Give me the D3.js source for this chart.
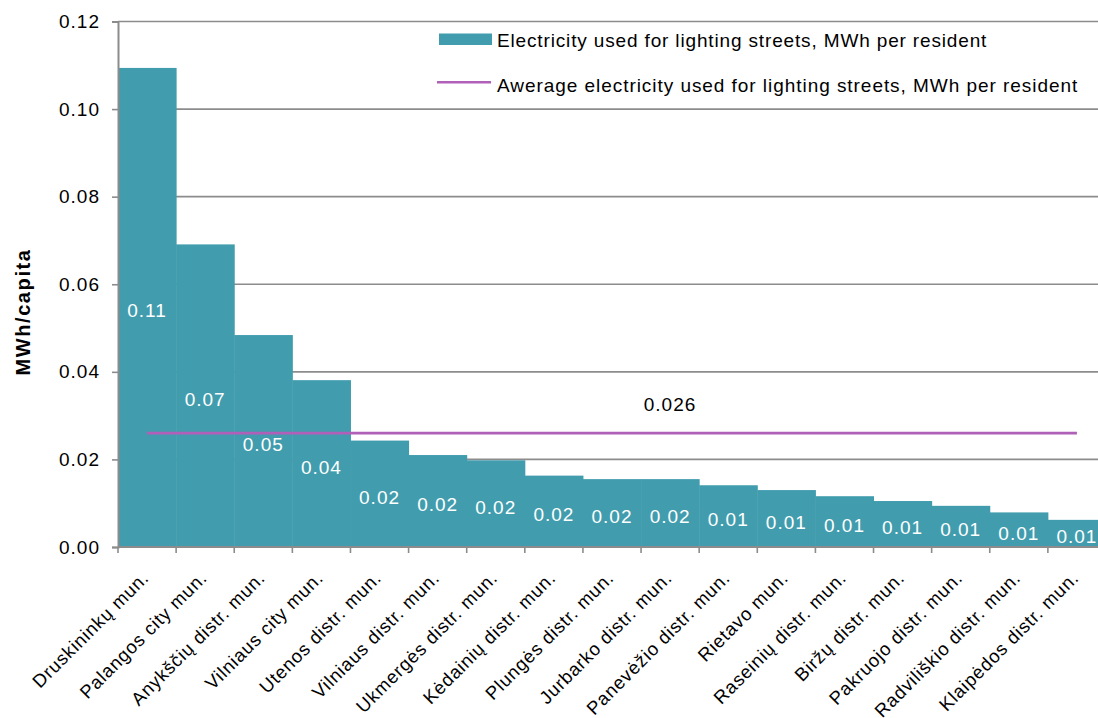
<!DOCTYPE html>
<html>
<head>
<meta charset="utf-8">
<script src="https://cdn.jsdelivr.net/npm/d3@7"></script>
<style>
  html, body { margin: 0; padding: 0; background: #fff; }
  svg { display: block; font-family: "Liberation Sans", Arial, sans-serif; }
</style>
</head>
<body>
<svg id="chart" width="1098" height="718"></svg>
<script>
// Street lighting electricity per resident, by municipality
const categories = [
  "Druskininkų mun.", "Palangos city mun.", "Anykščių distr. mun.", "Vilniaus city mun.",
  "Utenos distr. mun.", "Vilniaus distr. mun.", "Ukmergės distr. mun.", "Kėdainių distr. mun.",
  "Plungės distr. mun.", "Jurbarko distr. mun.", "Panevėžio distr. mun.", "Rietavo mun.",
  "Raseinių distr. mun.", "Biržų distr. mun.", "Pakruojo distr. mun.", "Radviliškio distr. mun.",
  "Klaipėdos distr. mun."
];
const values = [
  0.1094, 0.0691, 0.0484, 0.0381, 0.0243, 0.0210, 0.0198, 0.0163,
  0.0155, 0.0155, 0.0141, 0.0130, 0.0116, 0.0105, 0.0094, 0.0079, 0.0062
];
const average = 0.026;
const yTicks = [0, 0.02, 0.04, 0.06, 0.08, 0.10, 0.12];
const seriesNames = [
  "Electricity used for lighting streets, MWh per resident",
  "Awerage electricity used for lighting streets, MWh per resident"
];

const barColor = "#419DAE";
const avgColor = "#B060B8";
const axisColor = "#8C8C8C";

const svg = d3.select("#chart");
const plot = { left: 118, right: 1106, top: 21.5, bottom: 547 };

const x = d3.scaleBand().domain(categories).range([plot.left, plot.right]).padding(0);
const y = d3.scaleLinear().domain([0, 0.12]).range([plot.bottom, plot.top]);
const xc = c => x(c) + x.bandwidth() / 2;

function styleText(sel, size = 19, spacing = 1.0) {
  return sel.attr("font-size", size).attr("letter-spacing", spacing);
}

// Horizontal gridlines
svg.append("g")
  .selectAll("line")
  .data(yTicks.filter(t => t > 0))
  .join("line")
  .attr("x1", plot.left).attr("x2", plot.right)
  .attr("y1", d => y(d)).attr("y2", d => y(d))
  .attr("stroke", axisColor).attr("stroke-width", 1.6);

// Bars
svg.append("g")
  .selectAll("rect")
  .data(values)
  .join("rect")
  .attr("x", (d, i) => x(categories[i]))
  .attr("width", x.bandwidth() + 0.5)
  .attr("y", d => y(d))
  .attr("height", d => y(0) - y(d))
  .attr("fill", barColor);

// Average line from first to last category centre
svg.append("line")
  .attr("x1", xc(categories[0]))
  .attr("x2", xc(categories[categories.length - 1]))
  .attr("y1", y(average)).attr("y2", y(average))
  .attr("stroke", avgColor).attr("stroke-width", 2.6);

styleText(svg.append("text"))
  .attr("x", 670).attr("y", 411)
  .attr("text-anchor", "middle")
  .attr("fill", "#000")
  .text(d3.format(".3f")(average));

// Value labels centred in each bar
styleText(svg.append("g")
  .selectAll("text")
  .data(values)
  .join("text"))
  .attr("x", (d, i) => xc(categories[i]))
  .attr("y", d => (y(d) + y(0)) / 2 + 10)
  .attr("text-anchor", "middle")
  .attr("fill", "#fff")
  .text(d => d3.format(".2f")(d));

// Y axis
const yAxis = svg.append("g")
  .attr("transform", `translate(${plot.left},0)`)
  .call(d3.axisLeft(y).tickValues(yTicks).tickFormat(d3.format(".2f")).tickSize(6).tickPadding(12));
yAxis.select(".domain").attr("stroke", axisColor).attr("stroke-width", 2);
yAxis.selectAll(".tick line").attr("stroke", axisColor).attr("stroke-width", 1.6);
styleText(yAxis.selectAll(".tick text"))
  .attr("fill", "#000")
  .attr("font-family", "Liberation Sans, Arial, sans-serif");

// X axis: line at zero with ticks at category boundaries
svg.append("line")
  .attr("x1", plot.left).attr("x2", plot.right)
  .attr("y1", y(0)).attr("y2", y(0))
  .attr("stroke", axisColor).attr("stroke-width", 2);
svg.append("g")
  .selectAll("line")
  .data(categories)
  .join("line")
  .attr("x1", d => x(d)).attr("x2", d => x(d))
  .attr("y1", y(0)).attr("y2", y(0) + 6)
  .attr("stroke", axisColor).attr("stroke-width", 1.6);

styleText(svg.append("g")
  .selectAll("text")
  .data(categories)
  .join("text"), 18.5, 0.8)
  .attr("transform", d => `translate(${xc(d) + 3},${y(0) + 32}) rotate(-45)`)
  .attr("text-anchor", "end")
  .attr("fill", "#000")
  .text(d => d);

// Y axis title
svg.append("text")
  .attr("transform", "translate(30,312) rotate(-90)")
  .attr("text-anchor", "middle")
  .attr("font-size", 20).attr("letter-spacing", 1.6)
  .attr("font-weight", "bold").attr("fill", "#000")
  .text("MWh/capita");

// Legend
const legend = svg.append("g");
legend.append("rect")
  .attr("x", 439).attr("y", 33.5).attr("width", 53).attr("height", 11.5)
  .attr("fill", barColor);
styleText(legend.append("text"), 19, 0.85)
  .attr("x", 497).attr("y", 47.3)
  .attr("fill", "#000")
  .text(seriesNames[0]);
legend.append("line")
  .attr("x1", 437).attr("x2", 491).attr("y1", 82.3).attr("y2", 82.3)
  .attr("stroke", avgColor).attr("stroke-width", 2.6);
styleText(legend.append("text"), 19, 0.95)
  .attr("x", 497).attr("y", 91.7)
  .attr("fill", "#000")
  .text(seriesNames[1]);
</script>
</body>
</html>
